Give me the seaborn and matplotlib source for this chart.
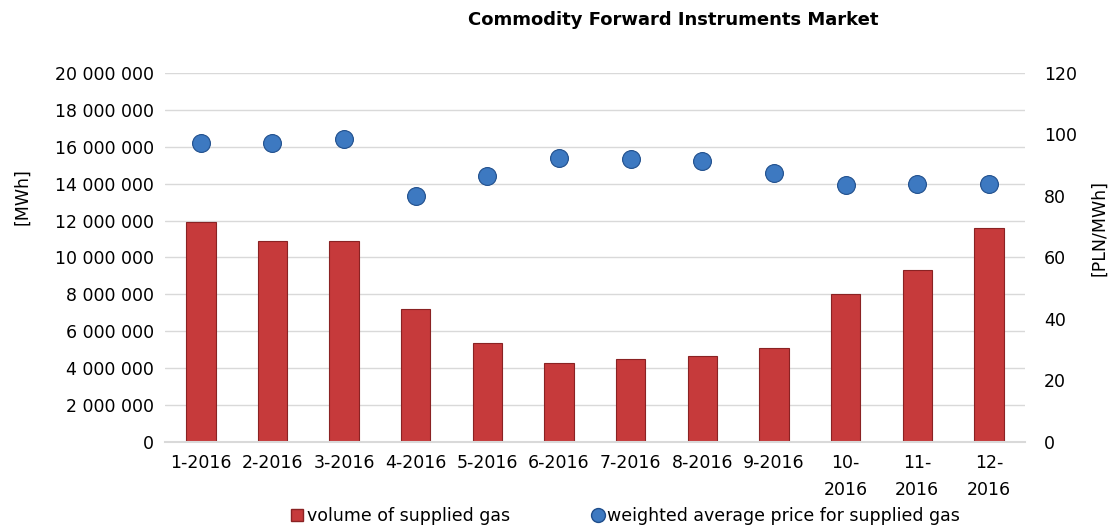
import pandas as pd
import matplotlib
matplotlib.use("Agg")
import matplotlib.pyplot as plt
from matplotlib.ticker import FuncFormatter
from matplotlib.lines import Line2D
import seaborn as sns

# --- Data ---
months = ["1-2016", "2-2016", "3-2016", "4-2016", "5-2016", "6-2016",
          "7-2016", "8-2016", "9-2016", "10-\n2016", "11-\n2016", "12-\n2016"]
volume = [11930000, 10890000, 10890000, 7210000, 5350000, 4300000,
          4480000, 4660000, 5110000, 8040000, 9300000, 11580000]
price = [97.1, 97.1, 98.5, 80.0, 86.6, 92.5, 92.0, 91.5, 87.4, 83.5, 83.8, 83.8]

df = pd.DataFrame({"month": months, "volume": volume, "price": price})

sns.set_style("white")
plt.rcParams["font.family"] = ["DejaVu Sans"]
plt.rcParams["text.color"] = "black"
plt.rcParams["xtick.color"] = "black"
plt.rcParams["ytick.color"] = "black"
plt.rcParams["axes.labelcolor"] = "black"

fs = 12.5
bar_col, bar_edge = "#C63A3B", "#8A2223"
dot_col, dot_edge = "#3D79C1", "#1F4E8C"

fig = plt.figure(figsize=(11.15, 5.29), dpi=100)
ax = fig.add_axes([0.148, 0.1645, 0.771, 0.6975])

# --- Bars: volume of supplied gas ---
sns.barplot(data=df, x="month", y="volume", color=bar_col, width=0.41,
            edgecolor=bar_edge, linewidth=0.8, saturation=1, ax=ax)
ax.set_ylim(0, 20000000)
ax.set_yticks(range(0, 20000001, 2000000))
ax.yaxis.set_major_formatter(FuncFormatter(lambda v, p: f"{int(v):,}".replace(",", " ")))
ax.set_xlim(-0.5, 11.5)
ax.grid(axis="y", color="#D9D9D9", linewidth=1)
ax.set_axisbelow(True)
for s in ["top", "right", "left"]:
    ax.spines[s].set_visible(False)
ax.spines["bottom"].set_color("#D9D9D9")
ax.spines["bottom"].set_linewidth(1.5)
ax.tick_params(axis="y", length=0, labelsize=fs, pad=8)
ax.tick_params(axis="x", length=0, labelsize=fs, pad=9)
for lbl in ax.get_xticklabels():
    lbl.set_linespacing(1.6)
ax.set_xlabel("")
ax.set_ylabel("[MWh]", fontsize=fs)
ax.yaxis.set_label_coords(-0.156, 0.664)

# --- Dots: weighted average price ---
ax2 = ax.twinx()
sns.scatterplot(data=df, x="month", y="price", s=165, color=dot_col,
                edgecolor=dot_edge, linewidth=0.8, ax=ax2, zorder=5)
ax2.set_ylim(0, 120)
ax2.set_yticks(range(0, 121, 20))
ax2.set_xlim(-0.5, 11.5)
for s in ["top", "right", "left", "bottom"]:
    ax2.spines[s].set_visible(False)
ax2.tick_params(axis="y", length=0, labelsize=fs, pad=14)
ax2.set_ylabel("[PLN/MWh]", fontsize=fs)
ax2.yaxis.set_label_coords(1.076, 0.58)
ax2.set_xlabel("")

fig.text(0.604, 0.962, "Commodity Forward Instruments Market",
         ha="center", va="center", fontsize=13, fontweight="bold")

handles = [
    Line2D([], [], marker="s", linestyle="", markersize=8,
           markerfacecolor=bar_col, markeredgecolor=bar_edge),
    Line2D([], [], marker="o", linestyle="", markersize=10,
           markerfacecolor=dot_col, markeredgecolor=dot_edge),
]
fig.legend(handles, ["volume of supplied gas", "weighted average price for supplied gas"],
           loc="center", bbox_to_anchor=(0.561, 0.025), ncol=2, frameon=False,
           fontsize=fs, handlelength=0.7, handletextpad=0.2, columnspacing=4.7,
           borderpad=0, borderaxespad=0)

fig.savefig("out.png", dpi=100)
